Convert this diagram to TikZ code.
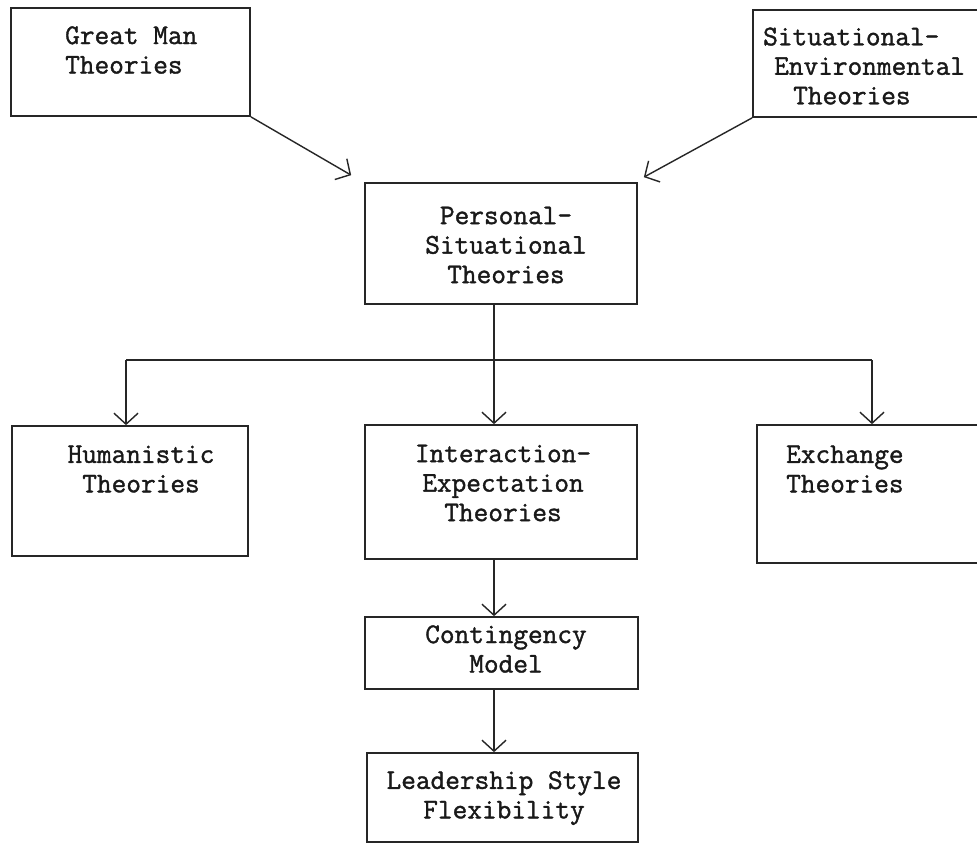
\documentclass[tikz,border=0pt]{standalone}
\usepackage{fontspec}
\newfontfamily\typewr[FakeBold=1.3]{Latin Modern Mono}
\usetikzlibrary{arrows.meta,calc}
\begin{document}
\begin{tikzpicture}[x=1pt,y=-1pt,
  box/.style={draw=black!85, line width=1.7pt, rectangle, inner sep=0pt},
  lbl/.style={font=\typewr\fontsize{28.5}{29.5}\selectfont, inner sep=0pt, text=black!90},
  conn/.style={draw=black!85, line width=1.4pt},
  arr/.style={conn, -{Straight Barb[length=11pt,width=24pt,line width=1.4pt]}}]
\useasboundingbox[fill=white] (0,0) rectangle (977,844);
% boxes
\node[box, minimum width=239pt, minimum height=108pt] (gm) at (130.5,62) {};
\node[box, minimum width=229pt, minimum height=107pt] (se) at (867.5,63.5) {};
\node[box, minimum width=272pt, minimum height=121pt] (ps) at (501,243.5) {};
\node[box, minimum width=236pt, minimum height=130pt] (hu) at (130,491) {};
\node[box, minimum width=272pt, minimum height=134pt] (ie) at (501,492) {};
\node[box, minimum width=225pt, minimum height=138pt] (ex) at (869.5,494) {};
\node[box, minimum width=273pt, minimum height=72pt] (cm) at (501.5,653) {};
\node[box, minimum width=271pt, minimum height=89pt] (ls) at (502.5,797.5) {};
% texts
\node[lbl, align=left, anchor=west] (tgm) at (65,50) {Great Man\\Theories};
\node[lbl, align=left, anchor=west] (tse) at (763,66) {Situational-\\\hspace*{11pt}Environmental\\\hspace*{30pt}Theories};
\node[lbl, align=center] (tps) at (506,245) {Personal-\\Situational\\Theories};
\node[lbl, align=center] (thu) at (141,469) {Humanistic\\Theories};
\node[lbl, align=center] (tie) at (503,483) {Interaction-\\Expectation\\Theories};
\node[lbl, align=left, anchor=west] (tex) at (786,469) {Exchange\\Theories};
\node[lbl, align=center] (tcm) at (506,649) {Contingency\\Model};
\node[lbl, align=center] (tls) at (504,798) {Leadership Style\\Flexibility};
% connectors
\coordinate (jl) at (126,360);
\coordinate (jm) at (494,360);
\coordinate (jr) at (872,360);
\draw[arr] (gm.south east) -- ([shift={(-13,-7)}]ps.north west);
\draw[arr] (se.south west) -- ([shift={(6,-5)}]ps.north east);
\draw[conn] (ps.south -| jm) -- (jm);
\draw[conn] (jl) -- (jr);
\draw[arr] (jl) -- (hu.north -| jl);
\draw[arr] (jm) -- (ie.north -| jm);
\draw[arr] (jr) -- (ex.north -| jr);
\draw[arr] (ie.south -| jm) -- (cm.north -| jm);
\draw[arr] (cm.south -| jm) -- (ls.north -| jm);
\end{tikzpicture}
\end{document}
